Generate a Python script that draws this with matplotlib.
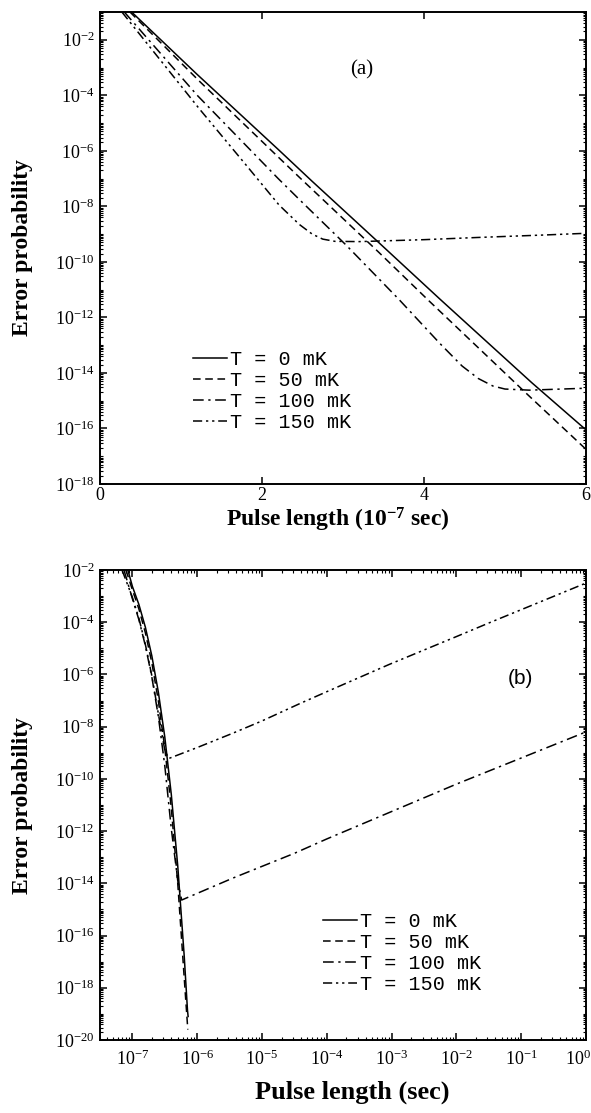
import numpy as np
import matplotlib
matplotlib.use("Agg")
import matplotlib.pyplot as plt
import matplotlib.transforms as mtransforms
from matplotlib.ticker import LogLocator, FixedLocator, NullFormatter

plt.rcParams['font.family'] = 'serif'
plt.rcParams['font.serif'] = ['Liberation Serif', 'DejaVu Serif']
plt.rcParams['mathtext.fontset'] = 'custom'
plt.rcParams['mathtext.rm'] = 'Liberation Serif'
plt.rcParams['mathtext.it'] = 'Liberation Serif:italic'
plt.rcParams['mathtext.bf'] = 'Liberation Serif:bold'

labels = ['T = 0 mK', 'T = 50 mK', 'T = 100 mK', 'T = 150 mK']
styles = ['-', (0, (5, 3)), (0, (7, 3, 1.5, 3)), (0, (6, 2.5, 1.5, 2.5, 1.5, 2.5))]

# (a) pulse length in units of 1e-7 s, log10 of error probability
a_t = [
    [0.39, 1.2, 2.2, 2.62, 3.44, 4.2, 5.33, 6.0],
    [0.37, 1.23, 2.21, 2.46, 3.44, 4.06, 5.25, 6.0],
    [0.30, 1.2, 2.2, 2.46, 3.04, 3.69, 4.2, 4.47, 4.67, 4.85, 5.0, 5.3, 6.0],
    [0.27, 1.23, 1.8, 2.21, 2.46, 2.62, 2.75, 2.9, 3.2, 4.0, 4.67, 5.5, 6.0],
]
a_logp = [
    [-1.0, -3.25, -5.95, -7.1, -9.3, -11.35, -14.35, -16.05],
    [-1.0, -3.5, -6.25, -6.95, -9.65, -11.4, -14.7, -16.75],
    [-1.0, -4.0, -7.0, -7.75, -9.4, -11.35, -12.95, -13.75, -14.2, -14.47, -14.58, -14.62, -14.55],
    [-1.0, -4.5, -6.5, -7.95, -8.65, -9.0, -9.18, -9.26, -9.27, -9.2, -9.12, -9.03, -8.97],
]

# (b) log10 of pulse length in seconds, log10 of error probability
b_logt = [
    [-7.07, -7.0, -6.9, -6.8, -6.7, -6.6, -6.5, -6.4, -6.3, -6.2, -6.15, -6.14],
    [-7.1, -7.0, -6.9, -6.8, -6.7, -6.6, -6.5, -6.4, -6.3, -6.2, -6.145],
    [-7.13, -7.0, -6.9, -6.8, -6.7, -6.6, -6.5, -6.4, -6.3, -6.24,
     -5.45, -5.0, -4.5, -4.0, -3.0, -2.0, -1.0, 0.0],
    [-7.16, -7.0, -6.9, -6.8, -6.7, -6.6, -6.5, -6.44,
     -6.0, -5.45, -5.0, -4.42, -4.0, -3.04, -2.0, -1.5, -1.0, 0.0],
]
b_logp = [
    [-2.0, -2.63, -3.32, -4.19, -5.29, -6.67, -8.4, -10.59, -13.34, -16.8, -18.86, -19.1],
    [-2.0, -2.76, -3.49, -4.4, -5.55, -7.0, -8.82, -11.11, -14.0, -17.63, -19.6],
    [-2.0, -3.1, -3.9, -4.9, -6.1, -7.6, -9.5, -11.9, -13.9, -14.64,
     -13.8, -13.35, -12.85, -12.3, -11.25, -10.2, -9.2, -8.2],
    [-2.0, -3.05, -3.85, -4.85, -6.05, -7.5, -8.9, -9.22,
     -8.8, -8.25, -7.78, -7.12, -6.66, -5.62, -4.55, -4.03, -3.52, -2.5],
]

fig = plt.figure(figsize=(5.91, 11.13), dpi=100)
W, H = 591.0, 1113.0
ax1 = fig.add_axes([100 / W, 1 - 484 / H, 486 / W, 472 / H])
ax2 = fig.add_axes([100 / W, 1 - 1040 / H, 486 / W, 470 / H])

mono = {'family': 'Liberation Mono', 'size': 14.5}
lab_kw = dict(fontweight='bold')

# panel (a)
for t, lp, ls, lab in zip(a_t, a_logp, styles, labels):
    ax1.plot(t, np.power(10.0, lp), color='black', lw=1.1, ls=ls, label=lab)
ax1.set_yscale('log')
ax1.set_xlim(0, 6)
ax1.set_ylim(1e-18, 1e-1)
ax1.set_xticks([0, 2, 4, 6])
ax1.set_xticklabels(['0', '2', '4', '6'])
ymaj = [10.0 ** k for k in range(-18, -1, 2)]
ax1.yaxis.set_major_locator(FixedLocator(ymaj))
ax1.set_yticklabels(['$10^{%d}$' % k for k in range(-18, -1, 2)])
ax1.yaxis.set_minor_locator(LogLocator(base=10, subs=np.arange(1, 10), numticks=200))
ax1.yaxis.set_minor_formatter(NullFormatter())
ax1.set_xlabel(r'Pulse length ($\mathbf{10^{-7}}$ sec)', fontsize=17, **lab_kw)
ax1.xaxis.set_label_coords(0.49, -0.046)
ax1.set_ylabel('Error probability', fontsize=17, **lab_kw)
ax1.yaxis.set_label_coords(-0.138, 0.5)
ax1.text(362, H - 70, '(a)', fontsize=15, ha='center', va='center', transform=None)
ax1.legend(loc='upper left', bbox_to_anchor=(193 / W, 1 - 350 / H), bbox_transform=fig.transFigure,
           frameon=False, prop=mono, handlelength=1.7, handletextpad=0.15, labelspacing=0.1,
           borderpad=0, borderaxespad=0)

# panel (b)
for lt, lp, ls, lab in zip(b_logt, b_logp, styles, labels):
    ax2.plot(np.power(10.0, lt), np.power(10.0, lp), color='black', lw=1.1, ls=ls, label=lab)
ax2.set_xscale('log')
ax2.set_yscale('log')
ax2.set_xlim(10 ** -7.5, 1)
ax2.set_ylim(1e-20, 1e-2)
xmaj = [10.0 ** k for k in range(-7, 1)]
ax2.xaxis.set_major_locator(FixedLocator(xmaj))
ax2.set_xticklabels(['$10^{%d}$' % k for k in range(-7, 1)])
ax2.xaxis.set_minor_locator(LogLocator(base=10, subs=np.arange(1, 10), numticks=200))
ax2.xaxis.set_minor_formatter(NullFormatter())
ymaj2 = [10.0 ** k for k in range(-20, -1, 2)]
ax2.yaxis.set_major_locator(FixedLocator(ymaj2))
ax2.set_yticklabels(['$10^{%d}$' % k for k in range(-20, -1, 2)])
ax2.yaxis.set_minor_locator(LogLocator(base=10, subs=np.arange(1, 10), numticks=200))
ax2.yaxis.set_minor_formatter(NullFormatter())
ax2.set_xlabel('Pulse length (sec)', fontsize=19, **lab_kw)
ax2.xaxis.set_label_coords(0.52, -0.086)
ax2.set_ylabel('Error probability', fontsize=17, **lab_kw)
ax2.yaxis.set_label_coords(-0.138, 0.5)
ax2.text(520, H - 678, '(b)', fontsize=15, family='Liberation Sans', ha='center', va='center',
         transform=None)
ax2.legend(loc='upper left', bbox_to_anchor=(323 / W, 1 - 912 / H), bbox_transform=fig.transFigure,
           frameon=False, prop=mono, handlelength=1.7, handletextpad=0.15, labelspacing=0.1,
           borderpad=0, borderaxespad=0)

for ax in (ax1, ax2):
    for s in ax.spines.values():
        s.set_linewidth(1.4)
    ax.tick_params(which='both', direction='in', top=True, right=True, labelsize=13)
    ax.tick_params(which='major', length=5, width=1.1, pad=4)
    ax.tick_params(which='minor', length=2.5, width=0.8)
ax1.tick_params(axis='x', which='major', pad=2)
ax2.tick_params(axis='x', which='major', pad=7)

# keep the last x tick label inside the figure edge
last = ax2.get_xticklabels()[-1]
last.set_transform(last.get_transform() + mtransforms.ScaledTranslation(-8 / 100, 0, fig.dpi_scale_trans))

fig.savefig('out.png', dpi=100)
